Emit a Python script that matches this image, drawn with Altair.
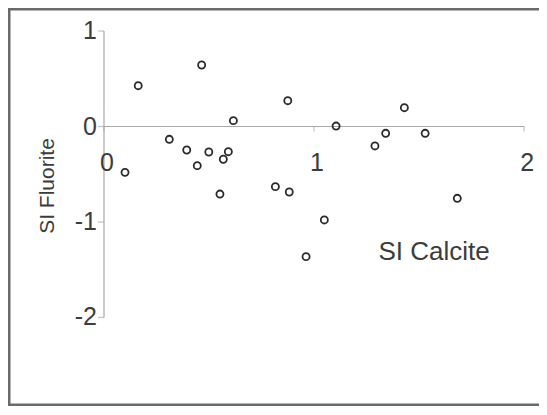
import altair as alt
import pandas as pd

# Data
si_calcite = [0.163, 0.465, 0.616, 0.311, 0.394, 0.499, 0.592, 0.568, 0.444, 0.100, 0.552,
              0.875, 1.105, 1.430, 1.341, 1.290, 1.529, 0.816, 0.882, 1.049, 1.682, 0.962]
si_fluorite = [0.427, 0.644, 0.061, -0.134, -0.246, -0.267, -0.264, -0.343, -0.410, -0.480, -0.707,
               0.270, 0.005, 0.197, -0.071, -0.204, -0.071, -0.630, -0.686, -0.979, -0.752, -1.363]
x_ticks = [0, 1, 2]
y_ticks = [1, 0, -1, -2]
x_title = "SI Calcite"
y_title = "SI Fluorite"

W, H = 531, 398
XDOM = [-0.457, 2.071]
YDOM = [-2.927, 1.241]
FONT = "Liberation Sans"
AXIS_COLOR = "#a8a8a8"
TEXT_COLOR = "#3c3c3c"

pts = pd.DataFrame({"x": si_calcite, "y": si_fluorite})
xt = pd.DataFrame({"x": x_ticks, "y": [0] * len(x_ticks), "label": [str(v) for v in x_ticks]})
yt = pd.DataFrame({"x": [0] * len(y_ticks), "y": y_ticks, "label": [str(v) for v in y_ticks]})
xaxis = pd.DataFrame({"x": [min(x_ticks)], "x2": [max(x_ticks)], "y": [0]})
yaxis = pd.DataFrame({"x": [0], "y": [min(y_ticks)], "y2": [max(y_ticks)]})

xs = alt.Scale(domain=XDOM, nice=False, zero=False)
ys = alt.Scale(domain=YDOM, nice=False, zero=False)
X = lambda f="x": alt.X(f, type="quantitative", scale=xs, axis=None)
Y = lambda f="y": alt.Y(f, type="quantitative", scale=ys, axis=None)

x_line = alt.Chart(xaxis).mark_rule(color=AXIS_COLOR, strokeWidth=1.2).encode(
    x=X(), x2="x2:Q", y=Y())
y_line = alt.Chart(yaxis).mark_rule(color=AXIS_COLOR, strokeWidth=1.2).encode(
    x=X(), y=Y(), y2="y2:Q")
x_tk = alt.Chart(xt).mark_tick(color=AXIS_COLOR, orient="vertical", size=5, yOffset=2.5, thickness=1.2).encode(
    x=X(), y=Y())
y_tk = alt.Chart(yt).mark_tick(color=AXIS_COLOR, orient="horizontal", size=6, xOffset=-3, thickness=1.2).encode(
    x=X(), y=Y())
x_lab = alt.Chart(xt).mark_text(font=FONT, fontSize=25, color=TEXT_COLOR, align="center",
                                baseline="middle", dy=36, dx=3).encode(x=X(), y=Y(), text="label:N")
y_lab = alt.Chart(yt).mark_text(font=FONT, fontSize=25, color=TEXT_COLOR, align="right",
                                baseline="middle", dx=-7).encode(x=X(), y=Y(), text="label:N")

points = alt.Chart(pts).mark_point(shape="circle", filled=False, size=50, strokeWidth=1.8,
                                   color="#2a2a2a", opacity=1).encode(x=X(), y=Y())

xtitle = alt.Chart(pd.DataFrame({"t": [x_title]})).mark_text(
    font=FONT, fontSize=26, color=TEXT_COLOR, align="center", baseline="middle").encode(
    x=alt.value(426), y=alt.value(244), text="t:N")
ytitle = alt.Chart(pd.DataFrame({"t": [y_title]})).mark_text(
    font=FONT, fontSize=21, color=TEXT_COLOR, align="center", baseline="middle", angle=270).encode(
    x=alt.value(40), y=alt.value(178), text="t:N")

border_l = alt.Chart(pd.DataFrame({"a": [0]})).mark_rule(color="#6a6a6a", strokeWidth=2.5).encode(
    x=alt.value(1.25), y=alt.value(0), y2=alt.value(H))
border_t = alt.Chart(pd.DataFrame({"a": [0]})).mark_rule(color="#6a6a6a", strokeWidth=2.5).encode(
    y=alt.value(1.25), x=alt.value(0), x2=alt.value(W))
border_b = alt.Chart(pd.DataFrame({"a": [0]})).mark_rule(color="#6a6a6a", strokeWidth=2.5).encode(
    y=alt.value(H - 1.25), x=alt.value(0), x2=alt.value(W))

chart = alt.layer(
    x_line, y_line, x_tk, y_tk, x_lab, y_lab, points, xtitle, ytitle, border_l, border_t, border_b
).properties(
    width=W, height=H, padding=0, autosize="none", background="white"
).configure_view(stroke=None)

chart.save("out.html", embed_options={"renderer": "svg", "actions": False})
